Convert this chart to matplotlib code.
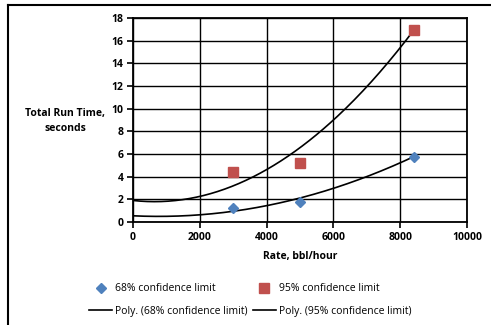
import numpy as np
import matplotlib.pyplot as plt
from matplotlib.lines import Line2D

# --------------------------------------------------
# data
# --------------------------------------------------
rate = [3000, 5000, 8400]
time_68 = [1.25, 1.75, 5.75]
time_95 = [4.4, 5.2, 16.9]

# points read along the two Excel "Poly." trendlines
trend_x = [0, 1000, 2000, 3000, 4000, 5000, 6000, 7000, 8000, 8400]
trend_68 = [0.55, 0.50, 0.63, 0.95, 1.44, 2.12, 2.97, 4.01, 5.22, 5.76]
trend_95 = [1.90, 1.83, 2.26, 3.19, 4.62, 6.56, 9.00, 11.94, 15.38, 16.90]

x_ticks = [0, 2000, 4000, 6000, 8000, 10000]
y_ticks = [0, 2, 4, 6, 8, 10, 12, 14, 16, 18]

BLUE = "#4F81BD"
RED = "#C0504D"
FONT = ["Open Sans", "DejaVu Sans"]

plt.rcParams["font.family"] = FONT
plt.rcParams["font.weight"] = "bold"

fig = plt.figure(figsize=(4.91, 3.25), dpi=100)
ax = fig.add_axes([0.2709, 0.3169, 0.6802, 0.6277])

# smooth trendlines: quadratic through the read points
xs = np.linspace(0, 8400, 200)
p68 = np.polyfit(trend_x, trend_68, 2)
p95 = np.polyfit(trend_x, trend_95, 2)

ax.plot(rate, time_68, linestyle="none", marker="D", color=BLUE, markersize=5.5,
        label="68% confidence limit", zorder=4)
ax.plot(rate, time_95, linestyle="none", marker="s", color=RED, markersize=6.5,
        label="95% confidence limit", zorder=4)
ax.plot(xs, np.polyval(p68, xs), color="black", lw=1.2,
        label="Poly. (68% confidence limit)", zorder=3)
ax.plot(xs, np.polyval(p95, xs), color="black", lw=1.2,
        label="Poly. (95% confidence limit)", zorder=3)

ax.set_xlim(0, 10000)
ax.set_ylim(0, 18)
ax.set_xticks(x_ticks)
ax.set_yticks(y_ticks)
ax.grid(True, color="black", lw=1.0)
ax.set_axisbelow(True)
for s in ax.spines.values():
    s.set_color("black")
    s.set_linewidth(1.3)
ax.tick_params(direction="out", length=4, width=1.2, labelsize=7.5, pad=3)
for lab in ax.get_xticklabels() + ax.get_yticklabels():
    lab.set_fontweight("bold")

ax.set_xlabel("Rate, bbl/hour", fontsize=7.5, fontweight="bold", labelpad=6)
fig.text(0.133, 0.628, "Total Run Time,\nseconds", ha="center", va="center",
         fontsize=7.5, fontweight="bold", linespacing=1.5)

# legend: column 1 = 68%, column 2 = 95%
h, l = ax.get_legend_handles_labels()
order = [0, 2, 1, 3]
leg = fig.legend([h[i] for i in order], [l[i] for i in order], ncol=2,
                 loc="center", bbox_to_anchor=(0.51, 0.077), frameon=False,
                 fontsize=7.5, handlelength=2.2, handletextpad=0.3,
                 columnspacing=0.5, labelspacing=1.1)
for t in leg.get_texts():
    t.set_fontweight("normal")

# outer chart border (top and left only visible)
fig.add_artist(Line2D([8 / 491, 1.0], [1 - 5 / 325, 1 - 5 / 325],
                      transform=fig.transFigure, color="black", lw=1.5))
fig.add_artist(Line2D([8 / 491, 8 / 491], [0, 1 - 5 / 325],
                      transform=fig.transFigure, color="black", lw=1.5))

fig.savefig("out.png", dpi=100)
